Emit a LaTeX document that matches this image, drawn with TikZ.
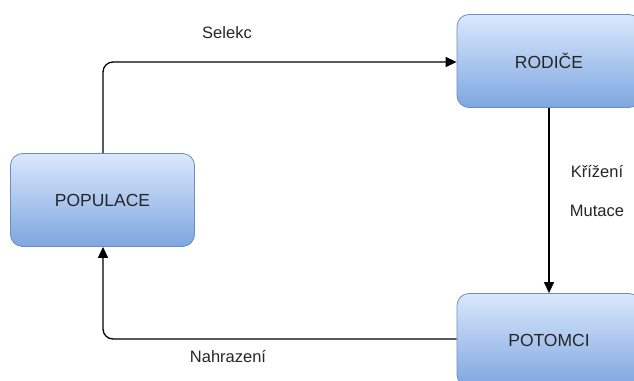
\documentclass[tikz,border=0pt]{standalone}
\usepackage{fontspec}
\setmainfont{Liberation Sans}
\usetikzlibrary{arrows.meta}
\definecolor{boxtop}{HTML}{DAE8FC}
\definecolor{boxbot}{HTML}{7EA6E0}
\definecolor{boxline}{HTML}{6C8EBF}
\tikzset{
  stage/.style={draw=boxline, line width=0.8pt, rounded corners=12pt,
    top color=boxtop, bottom color=boxbot,
    minimum width=184pt, minimum height=93pt, inner sep=0pt,
    font=\fontsize{17.5}{19}\selectfont, text=black!85},
  flow/.style={draw=black, line width=1.3pt, rounded corners=10pt,
    -{Triangle[length=11pt,width=10pt]}},
  lbl/.style={font=\fontsize{16.5}{19}\selectfont, text=black!85, inner sep=0pt}
}
\begin{document}
\begin{tikzpicture}[x=1pt, y=-1pt]
  \useasboundingbox (0,0) rectangle (634,380);
  \clip (0,0) rectangle (634,380);
  \node[stage] (pop) at (102.5,200) {POPULACE};
  \node[stage] (rod) at (549,61) {RODIČE};
  \node[stage] (pot) at (549,340) {POTOMCI};
  \coordinate (c1) at (103,62);
  \coordinate (c2) at (103,339);
  \draw[flow] (pop.north -| c1) -- (c1) -- (rod.west |- c1);
  \draw[flow] (rod.south) -- (pot.north);
  \draw[flow] (pot.west |- c2) -- (c2) -- (pop.south -| c2);
  \node[lbl] (t1) at (227,33) {Selekc};
  \node[lbl] (t2) at (597,172) {Křížení};
  \node[lbl] (t3) at (597,211) {Mutace};
  \node[lbl] (t4) at (228,357) {Nahrazení};
\end{tikzpicture}
\end{document}
